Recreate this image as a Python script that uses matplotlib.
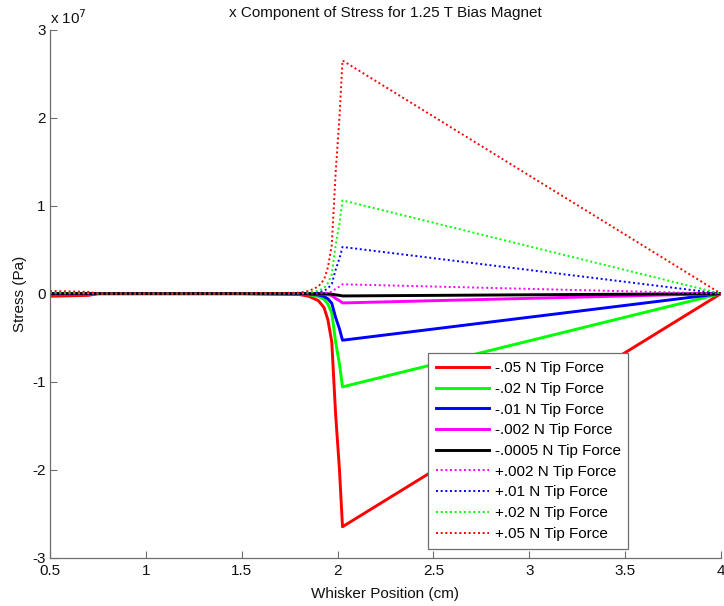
import matplotlib
matplotlib.use("Agg")
import matplotlib.pyplot as plt

plt.rcParams['font.family'] = ['Liberation Sans', 'DejaVu Sans']

# whisker position (cm)
position = [0.5, 0.6, 0.7, 0.75, 1.0, 1.5, 1.8, 1.85, 1.9, 1.93, 1.95,
            1.97, 1.99, 2.01, 2.026, 4.0]

# stress in units of 1e7 Pa, one list per tip force
neg_05 = [-0.03, -0.025, -0.02, 0, 0, 0, -0.01, -0.03, -0.08, -0.16, -0.30,
          -0.55, -1.37, -2.00, -2.65, 0]
neg_02 = [-0.012, -0.010, -0.008, 0, 0, 0, -0.004, -0.012, -0.032, -0.064,
          -0.12, -0.22, -0.55, -0.80, -1.06, 0]
neg_01 = [-0.006, -0.005, -0.004, 0, 0, 0, -0.002, -0.006, -0.016, -0.032,
          -0.06, -0.11, -0.27, -0.40, -0.53, 0]
neg_002 = [-0.001, -0.001, -0.001, 0, 0, 0, 0, -0.001, -0.003, -0.006,
           -0.012, -0.022, -0.055, -0.08, -0.106, 0]
neg_0005 = [0, 0, 0, 0, 0, 0, 0, 0, -0.001, -0.002, -0.003, -0.006,
            -0.014, -0.02, -0.0265, 0]
pos_002 = [0.001, 0.001, 0.001, 0, 0, 0, 0, 0.001, 0.003, 0.006,
           0.012, 0.022, 0.055, 0.08, 0.106, 0]
pos_01 = [0.006, 0.005, 0.004, 0, 0, 0, 0.002, 0.006, 0.016, 0.032,
          0.06, 0.11, 0.27, 0.40, 0.53, 0]
pos_02 = [0.012, 0.010, 0.008, 0, 0, 0, 0.004, 0.012, 0.032, 0.064,
          0.12, 0.22, 0.55, 0.80, 1.06, 0]
pos_05 = [0.03, 0.025, 0.02, 0, 0, 0, 0.01, 0.03, 0.08, 0.16, 0.30,
          0.55, 1.37, 2.00, 2.65, 0]

series = [
    ('-.05 N Tip Force', neg_05, '#ff0000', '-'),
    ('-.02 N Tip Force', neg_02, '#00ff00', '-'),
    ('-.01 N Tip Force', neg_01, '#0000ff', '-'),
    ('-.002 N Tip Force', neg_002, '#ff00ff', '-'),
    ('-.0005 N Tip Force', neg_0005, '#000000', '-'),
    ('+.002 N Tip Force', pos_002, '#ff00ff', ':'),
    ('+.01 N Tip Force', pos_01, '#0000ff', ':'),
    ('+.02 N Tip Force', pos_02, '#00ff00', ':'),
    ('+.05 N Tip Force', pos_05, '#ff0000', ':'),
]

fig = plt.figure(figsize=(7.24, 6.06), dpi=100)
ax = fig.add_axes([0.0690, 0.0800, 0.9268, 0.8710])

for label, vals, color, style in series:
    if style == '-':
        ax.plot(position, vals, color=color, lw=2.1, ls='-', label=label)
    else:
        ax.plot(position, vals, color=color, lw=1.4, ls=(0, (1, 1.4)),
                label=label)

ax.set_xlim(0.5, 4)
ax.set_ylim(-3, 3)
ax.set_xticks([0.5, 1, 1.5, 2, 2.5, 3, 3.5, 4])
ax.set_xticklabels(['0.5', '1', '1.5', '2', '2.5', '3', '3.5', '4'])
ax.set_yticks([-3, -2, -1, 0, 1, 2, 3])
ax.set_yticklabels(['-3', '-2', '-1', '0', '1', '2', '3'])

for side in ('top', 'right'):
    ax.spines[side].set_visible(False)
for side in ('left', 'bottom'):
    ax.spines[side].set_color('#6e6e6e')
    ax.spines[side].set_linewidth(0.9)
ax.tick_params(direction='in', length=5, width=0.8, color='#6e6e6e',
               labelsize=11, labelcolor='#111111', pad=3)
ax.tick_params(axis='x', pad=5)

ax.text(0.0, 1.005, 'x 10$^{7}$', transform=ax.transAxes, fontsize=11,
        ha='left', va='bottom', color='#111111')
ax.set_title('x Component of Stress for 1.25 T Bias Magnet', fontsize=11,
             color='#111111', pad=9)
ax.set_xlabel('Whisker Position (cm)', fontsize=11, color='#111111', labelpad=6)
ax.set_ylabel('Stress (Pa)', fontsize=11, color='#111111', labelpad=4)

leg = ax.legend(loc='lower right', bbox_to_anchor=(0.862, 0.017),
                borderaxespad=0, fontsize=11, fancybox=False, framealpha=1,
                handlelength=3.5, handletextpad=0.35, labelspacing=0.44,
                borderpad=0.5)
leg.get_frame().set_edgecolor('#6e6e6e')
leg.get_frame().set_linewidth(0.9)

fig.savefig('out.png', dpi=100, facecolor='white')
